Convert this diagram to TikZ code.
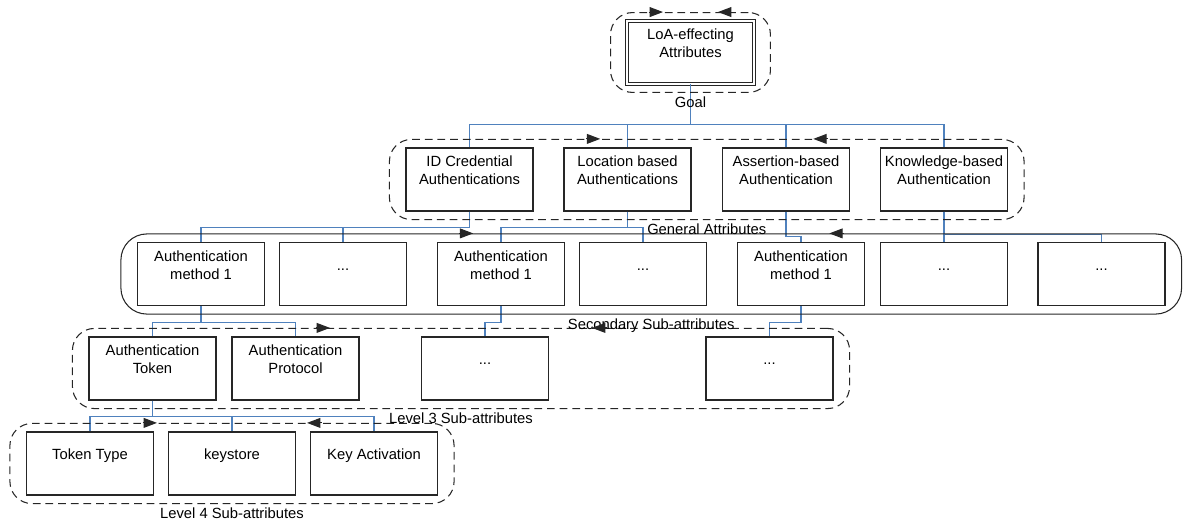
\documentclass[tikz,border=0pt]{standalone}
\usepackage{fontspec}
\setmainfont{Liberation Sans}
\usepackage{xcolor}
\usepackage{tikz}
\usetikzlibrary{arrows.meta,fit,positioning,calc}

\definecolor{linkblue}{RGB}{79,129,189}
\newcommand{\boxlines}[1]{\parbox[c][1.575cm][t]{3.175cm}{\vbox to 1.2cm{\vss\centering\strut#1\strut\par\vss}}}

\tikzset{
	attr/.style={draw=black!85,line width=0.8pt,inner sep=0pt,font=\fontsize{10.5}{12.8}\selectfont},
	goalattr/.style={attr,double,double distance=1.4pt,line width=0.6pt},
	link/.style={linkblue,line width=0.75pt},
	grpdash/.style={draw=black!85,line width=0.75pt,dash pattern=on 5.5pt off 3.5pt,rounded corners=0.55cm,inner xsep=0.4cm,inner ysep=0.2cm},
	grpsolid/.style={grpdash,solid,rounded corners=0.65cm},
	grplbl/.style={inner sep=1pt,font=\fontsize{10.5}{12.8}\selectfont},
	flowtip/.style={black!85,line width=0.75pt,-{Triangle[length=9.5pt,width=7pt]}}
}

\begin{document}
\begin{tikzpicture}[x=0.025cm,y=-0.025cm]
		\useasboundingbox (0,0) rectangle (1184,521);
		% goal
		\node[goalattr] (loa) at (690.5,52.5) {\boxlines{LoA-effecting\\Attributes}};
		% general attributes
		\node[attr] (idcred) at (469.5,179.5) {\boxlines{ID Credential\\Authentications}};
		\node[attr] (locauth) at (627.5,179.5) {\boxlines{Location based\\Authentications}};
		\node[attr] (assauth) at (786,179.5) {\boxlines{Assertion-based\\Authentication}};
		\node[attr] (knowauth) at (944,179.5) {\boxlines{Knowledge-based\\Authentication}};
		% secondary sub-attributes
		\node[attr] (idm) at (201,274) {\boxlines{Authentication\\method 1}};
		\node[attr] (idx) at (343,274) {\boxlines{...}};
		\node[attr] (locm) at (501,274) {\boxlines{Authentication\\method 1}};
		\node[attr] (locx) at (643,274) {\boxlines{...}};
		\node[attr] (assm) at (801,274) {\boxlines{Authentication\\method 1}};
		\node[attr] (knowx) at (944,274) {\boxlines{...}};
		\node[attr] (knowy) at (1101.5,274) {\boxlines{...}};
		% level 3
		\node[attr] (token) at (152.5,368.5) {\boxlines{Authentication\\Token}};
		\node[attr] (proto) at (295.5,368.5) {\boxlines{Authentication\\Protocol}};
		\node[attr] (locsub) at (485,368.5) {\boxlines{...}};
		\node[attr] (asssub) at (769.5,368.5) {\boxlines{...}};
		% level 4
		\node[attr] (toktype) at (90,463.5) {\boxlines{Token Type}};
		\node[attr] (keystore) at (232,463.5) {\boxlines{keystore}};
		\node[attr] (keyact) at (374,463.5) {\boxlines{Key Activation}};
		%
		\draw[link] (loa.south) -- ++(0,40) -| (idcred.north);
		\draw[link] (loa.south) -- ++(0,40) -| (locauth.north);
		\draw[link] (loa.south) -- ++(0,40) -| (assauth.north);
		\draw[link] (loa.south) -- ++(0,40) -| (knowauth.north);
		\draw[link] (idcred.south) -- ++(0,16) -| (idm.north);
		\draw[link] (idcred.south) -- ++(0,16) -| (idx.north);
		\draw[link] (locauth.south) -- ++(0,16) -| (locm.north);
		\draw[link] (locauth.south) -- ++(0,16) -| (locx.north);
		\draw[link] (assauth.south) -- ++(0,25) -| (assm.north);
		\draw[link] (knowauth.south) -- (knowx.north);
		\draw[link] (knowauth.south) -- ++(0,23) -| (knowy.north);
		\draw[link] (idm.south) -- ++(0,16.5) -| (token.north);
		\draw[link] (idm.south) -- ++(0,16.5) -| (proto.north);
		\draw[link] (locm.south) -- ++(0,16.5) -| (locsub.north);
		\draw[link] (assm.south) -- ++(0,16.5) -| (asssub.north);
		\draw[link] (token.south) -- ++(0,16) -| (toktype.north);
		\draw[link] (token.south) -- ++(0,16) -| (keystore.north);
		\draw[link] (token.south) -- ++(0,16) -| (keyact.north);
		% groups
		\node[grpdash,fit=(loa)] (goalgrp) {};
		\node[grpdash,fit=(idcred)(knowauth)] (gengrp) {};
		\node[grpsolid,fit=(idm)(knowy)] (secgrp) {};
		\node[grpdash,fit=(token)(asssub)] (lvlthree) {};
		\node[grpdash,fit=(toktype)(keyact)] (lvlfour) {};
		\node[grplbl,below=1.5pt of goalgrp] (goallbl) {Goal};
		\node[grplbl,below=1.5pt of gengrp] (genlbl) {General Attributes};
		\node[grplbl,below=1.5pt of secgrp] (seclbl) {Secondary Sub-attributes};
		\node[grplbl,below=1.5pt of lvlthree] (thrlbl) {Level 3 Sub-attributes};
		\node[grplbl,below=1.5pt of lvlfour] (fourlbl) {Level 4 Sub-attributes};
		% flow arrows
		\draw[flowtip] ($(goalgrp.north)+(-42,0)$) -- ($(goalgrp.north)+(-27.5,0)$);
		\draw[flowtip] ($(goalgrp.north)+(42,0)$) -- ($(goalgrp.north)+(27.5,0)$);
		\draw[flowtip] ($(gengrp.north)+(-121,0)$) -- ($(gengrp.north)+(-106.5,0)$);
		\draw[flowtip] ($(gengrp.north)+(121,0)$) -- ($(gengrp.north)+(106.5,0)$);
		\draw[flowtip] ($(secgrp.north)+(-192.5,0)$) -- ($(secgrp.north)+(-178,0)$);
		\draw[flowtip] ($(secgrp.north)+(192.5,0)$) -- ($(secgrp.north)+(178,0)$);
		\draw[flowtip] ($(lvlthree.north)+(-145.5,0)$) -- ($(lvlthree.north)+(-131,0)$);
		\draw[flowtip] ($(lvlthree.north)+(145.5,0)$) -- ($(lvlthree.north)+(131,0)$);
		\draw[flowtip] ($(lvlfour.north)+(-89.5,0)$) -- ($(lvlfour.north)+(-75,0)$);
		\draw[flowtip] ($(lvlfour.north)+(89.5,0)$) -- ($(lvlfour.north)+(75,0)$);
		\end{tikzpicture}
\end{document}
